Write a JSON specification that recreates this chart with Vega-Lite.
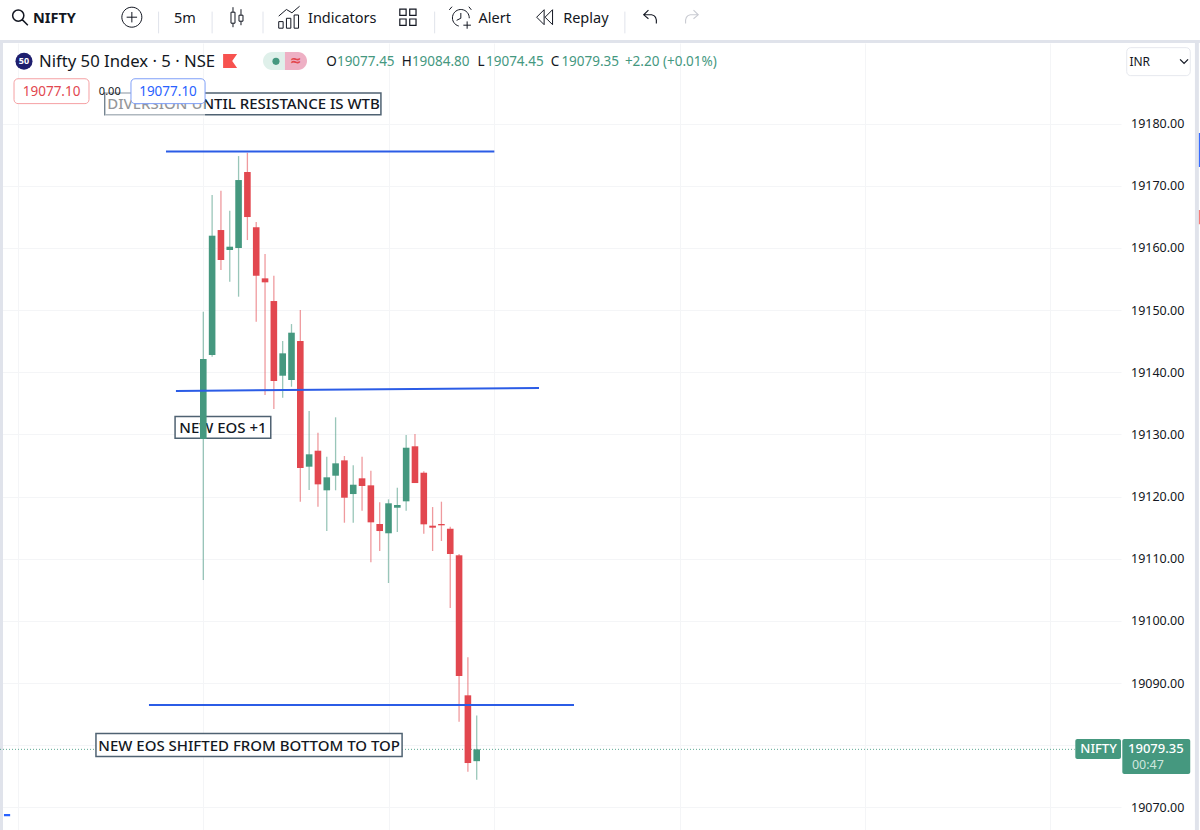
{
"$schema":"https://vega.github.io/schema/vega-lite/v6.json",
"width":1121,"height":787,
"padding":{"left":0,"top":43,"right":79,"bottom":0},
"autosize":{"type":"none"},
"background":"white",
"config":{"view":{"stroke":null},"text":{"font":"Noto Sans"}},
"datasets":{
"candles":[
{"t":0,"o":19129.26,"h":19149.73,"l":19106.58,"c":19142.13},
{"t":1,"o":19142.77,"h":19168.5,"l":19142.5,"c":19161.96},
{"t":2,"o":19162.87,"h":19169.19,"l":19156.44,"c":19158.05},
{"t":3,"o":19159.66,"h":19165.98,"l":19154.56,"c":19160.19},
{"t":4,"o":19159.98,"h":19174.77,"l":19152.15,"c":19170.91},
{"t":5,"o":19172.2,"h":19175.3,"l":19161.26,"c":19164.96},
{"t":6,"o":19163.31,"h":19164.16,"l":19148.13,"c":19155.52},
{"t":7,"o":19155.1,"h":19159.01,"l":19136.34,"c":19154.46},
{"t":8,"o":19151.45,"h":19155.52,"l":19134.09,"c":19138.59},
{"t":9,"o":19139.44,"h":19145.02,"l":19135.9,"c":19143.04},
{"t":10,"o":19138.75,"h":19147.75,"l":19137.67,"c":19146.36},
{"t":11,"o":19145.02,"h":19150.01,"l":19119.18,"c":19124.6},
{"t":12,"o":19124.81,"h":19133.76,"l":19121.06,"c":19126.8},
{"t":13,"o":19127.38,"h":19130.27,"l":19118.37,"c":19121.97},
{"t":14,"o":19121.01,"h":19126.41,"l":19114.46,"c":19123.1},
{"t":15,"o":19123.36,"h":19132.75,"l":19121.01,"c":19125.35},
{"t":16,"o":19125.83,"h":19126.53,"l":19115.8,"c":19119.82},
{"t":17,"o":19120.41,"h":19125.03,"l":19115.8,"c":19121.91},
{"t":18,"o":19122.94,"h":19126.41,"l":19117.73,"c":19121.7},
{"t":19,"o":19121.81,"h":19124.16,"l":19109.43,"c":19115.86},
{"t":20,"o":19115.59,"h":19119.08,"l":19111.25,"c":19114.46},
{"t":21,"o":19114.1,"h":19119.56,"l":19106.1,"c":19118.92},
{"t":22,"o":19118.21,"h":19121.43,"l":19114.3,"c":19118.65},
{"t":23,"o":19119.24,"h":19129.9,"l":19117.73,"c":19127.86},
{"t":24,"o":19128.09,"h":19130.06,"l":19122.18,"c":19122.18},
{"t":25,"o":19123.84,"h":19124.07,"l":19114.03,"c":19115.54},
{"t":26,"o":19115.32,"h":19118.32,"l":19111.25,"c":19115},
{"t":27,"o":19115.59,"h":19119.18,"l":19112.86,"c":19115.38},
{"t":28,"o":19114.83,"h":19115.16,"l":19102.08,"c":19110.77},
{"t":29,"o":19110.56,"h":19110.77,"l":19083.8,"c":19091.15},
{"t":30,"o":19088.04,"h":19094.15,"l":19075.75,"c":19077.15},
{"t":31,"o":19077.45,"h":19084.8,"l":19074.45,"c":19079.35}
],
"trend":[
{"t1":-4.23,"p1":19175.5,"t2":33,"p2":19175.5},
{"t1":-3.1,"p1":19136.98,"t2":38.06,"p2":19137.46},
{"t1":-6.16,"p1":19086.48,"t2":42.03,"p2":19086.48}
],
"notes":[
{"label":"DIVERSION UNTIL RESISTANCE IS WTB","t1":-11.15,"t2":20.14,"p1":19184.9,"p2":19181.4,"t":4.56,"p":19183.1},
{"label":"NEW EOS +1","t1":-3.2,"t2":7.65,"p1":19132.9,"p2":19129.4,"t":2.23,"p":19131.1},
{"label":"NEW EOS SHIFTED FROM BOTTOM TO TOP","t1":-12.17,"t2":22.54,"p1":19081.9,"p2":19078.2,"t":5.2,"p":19079.95}
],
"last":[{"p":19079.35,"t1":-23.05,"t2":98.8}],
"bands":[
{"part":"top","t1":-23.05,"t2":113,"p1":19193.43,"p2":19192.95},
{"part":"left","t1":-23.05,"t2":-22.71,"p1":19193,"p2":19066.4},
{"part":"right","t1":112.43,"t2":112.88,"p1":19193.4,"p2":19066.4}
],
"seps":[
{"t":-5.07,"p1":19198,"p2":19194.5},{"t":1.0,"p1":19198,"p2":19194.5},{"t":6.77,"p1":19198,"p2":19194.5},{"t":26.23,"p1":19198,"p2":19194.5},{"t":47.8,"p1":19198,"p2":19194.5}
],
"dark":[
{"label":"5m","t":-3.33,"p":19196.85},
{"label":"Indicators","t":11.87,"p":19196.85},
{"label":"Alert","t":31.2,"p":19196.85},
{"label":"Replay","t":40.8,"p":19196.85}
],
"veil":[{"t1":-11.15,"t2":0.2,"p1":19185.7,"p2":19180.8}],
"slips":[
{"part":"mark","t1":-22.6,"t2":-21.9,"p1":19068.95,"p2":19068.6},
{"part":"mark","t1":112.88,"t2":113,"p1":19178.47,"p2":19173},
{"part":"flagged","t1":112.88,"t2":113,"p1":19166.09,"p2":19163.8}
],
"pillL":[{"t1":6.77,"t2":9.26,"p1":19191.5,"p2":19188.6}],
"pillR":[{"t1":9.26,"t2":11.76,"p1":19191.5,"p2":19188.6}],
"tags":[
{"part":"red","t1":-21.46,"t2":-12.96,"p1":19187.2,"p2":19183.2,"t":-17.2,"p":19185.1,"label":"19077.10"},
{"part":"blue","t1":-8.2,"t2":0.2,"p1":19187.2,"p2":19183.2,"t":-4,"p":19185.1,"label":"19077.10"},
{"part":"inr","t1":104.7,"t2":111.9,"p1":19192.2,"p2":19187.7,"t":105,"p":19189.85,"label":"INR"}
],
"ohlcK":[
{"label":"O","t":13.94,"p":19189.85},{"label":"H","t":22.5,"p":19189.85},{"label":"L","t":31.1,"p":19189.85},{"label":"C","t":39.4,"p":19189.85}
],
"ohlcV":[
{"label":"19077.45","t":15.15,"p":19189.85},{"label":"19084.80","t":23.65,"p":19189.85},{"label":"19074.45","t":32.05,"p":19189.85},{"label":"19079.35","t":40.6,"p":19189.85},{"label":"+2.20 (+0.01%)","t":47.8,"p":19189.85}
],
"priceTags":[
{"t1":98.87,"t2":104.05,"p1":19081,"p2":19077.8,"t":101.5,"p":19079.4,"label":"NIFTY"},
{"t1":104.2,"t2":111.9,"p1":19081,"p2":19075.4,"t":108,"p":19079.4,"label":"19079.35"}
],
"icons":[
{"name":"search","t":-20.8,"p":19197.1},
{"name":"plus","t":-8.1,"p":19197.1},
{"name":"candle","t":3.82,"p":19197.1},
{"name":"bars","t":9.8,"p":19197.1},
{"name":"grid","t":23.2,"p":19197.1},
{"name":"alarm","t":29.2,"p":19197.1},
{"name":"rewind","t":38.75,"p":19197.1},
{"name":"undo","t":50.65,"p":19197.1}
]
},
"data":{"name":"candles"},
"encoding":{},
"layer":[
{"data":{"name":"bands"},"mark":{"type":"rect","color":"#e0e3eb"},
 "encoding":{"x":{"field":"t1","type":"quantitative","scale":{"domain":[-23.05,104.05],"nice":false,"zero":false,"padding":0},
   "axis":{"values":[-21,0,21,33,54,75,96],"grid":true,"gridColor":"#f4f5f7","domain":false,"ticks":false,"labels":false,"title":null,"orient":"bottom"}},
  "x2":{"field":"t2"},
  "y":{"field":"p1","type":"quantitative","scale":{"domain":[19066.38,19192.95],"nice":false,"zero":false,"padding":0},
   "axis":{"orient":"right","values":[19070,19080,19090,19100,19110,19120,19130,19140,19150,19160,19170,19180],"labelExpr":"datum.value==19080?'':format(datum.value,'.2f')","grid":true,"gridColor":"#f4f5f7","domain":false,"ticks":false,"labelPadding":9.5,"labelFont":"Noto Sans","labelFontSize":12.5,"labelColor":"#131722","title":null}},
  "y2":{"field":"p2"}}},
{"data":{"name":"slips"},"mark":{"type":"rect"},
 "encoding":{"x":{"field":"t1","type":"quantitative"},"x2":{"field":"t2"},"y":{"field":"p1","type":"quantitative"},"y2":{"field":"p2"},
  "fill":{"field":"part","type":"nominal","legend":null,"scale":{"domain":["mark","flagged"],"range":["#2962ff","#f7726f"]}}}},
{"data":{"name":"last"},"mark":{"type":"rule","color":"#4a9d86","strokeDash":[1,2],"strokeWidth":1,"opacity":0.9},
 "encoding":{"x":{"field":"t1","type":"quantitative"},"x2":{"field":"t2"},"y":{"field":"p","type":"quantitative"}}},
{"data":{"name":"notes"},"mark":{"type":"rect","fill":"white","stroke":"#4f6272","strokeWidth":1.5},
 "encoding":{"x":{"field":"t1","type":"quantitative"},"x2":{"field":"t2"},"y":{"field":"p1","type":"quantitative"},"y2":{"field":"p2"}}},
{"data":{"name":"notes"},"mark":{"type":"text","fontSize":15,"font":"Noto Sans","fontWeight":500,"color":"#131722"},
 "encoding":{"x":{"field":"t","type":"quantitative"},"y":{"field":"p","type":"quantitative"},"text":{"field":"label"}}},
{"mark":{"type":"rule","strokeWidth":1.3,"opacity":0.55},
 "encoding":{"x":{"field":"t","type":"quantitative"},"y":{"field":"l","type":"quantitative"},"y2":{"field":"h"},
  "color":{"condition":{"test":"datum.c>=datum.o","value":"#45987f"},"value":"#e2474f"}}},
{"mark":{"type":"bar","size":6.6},
 "encoding":{"x":{"field":"t","type":"quantitative"},"y":{"field":"o","type":"quantitative"},"y2":{"field":"c"},
  "color":{"condition":{"test":"datum.c>=datum.o","value":"#45987f"},"value":"#e2474f"}}},
{"data":{"name":"trend"},"mark":{"type":"rule","color":"#2b5ce6","strokeWidth":2},
 "encoding":{"x":{"field":"t1","type":"quantitative"},"x2":{"field":"t2"},"y":{"field":"p1","type":"quantitative"},"y2":{"field":"p2"}}},
{"data":{"name":"veil"},"mark":{"type":"rect","fill":"white","opacity":0.55},
 "encoding":{"x":{"field":"t1","type":"quantitative"},"x2":{"field":"t2"},"y":{"field":"p1","type":"quantitative"},"y2":{"field":"p2"}}},
{"data":{"name":"pillL"},"mark":{"type":"rect","fill":"#dff0ea","cornerRadiusTopLeft":9,"cornerRadiusBottomLeft":9},
 "encoding":{"x":{"field":"t1","type":"quantitative"},"x2":{"field":"t2"},"y":{"field":"p1","type":"quantitative"},"y2":{"field":"p2"}}},
{"data":{"name":"pillR"},"mark":{"type":"rect","fill":"#eeb0c4","cornerRadiusTopRight":9,"cornerRadiusBottomRight":9},
 "encoding":{"x":{"field":"t1","type":"quantitative"},"x2":{"field":"t2"},"y":{"field":"p1","type":"quantitative"},"y2":{"field":"p2"}}},
{"data":{"values":[{"t":3.04,"p":19190.05}]},"mark":{"type":"point","shape":"M-0.5,-0.5L0.5,-0.5L0.15,0L0.5,0.5L-0.5,0.5Z","size":784,"filled":true,"color":"#f7524f","opacity":1},
 "encoding":{"x":{"field":"t","type":"quantitative"},"y":{"field":"p","type":"quantitative"}}},
{"data":{"name":"tags"},"mark":{"type":"rect","fill":"white","cornerRadius":4,"strokeWidth":1},
 "encoding":{"x":{"field":"t1","type":"quantitative"},"x2":{"field":"t2"},"y":{"field":"p1","type":"quantitative"},"y2":{"field":"p2"},
  "stroke":{"field":"part","type":"nominal","legend":null,"scale":{"domain":["red","blue","inr"],"range":["#f5a0a3","#7f9ff8","#e6e8ee"]}}}},
{"data":{"name":"tags"},"transform":[{"filter":"datum.part!='inr'"}],"mark":{"type":"text","fontSize":13.5,"font":"Noto Sans"},
 "encoding":{"x":{"field":"t","type":"quantitative"},"y":{"field":"p","type":"quantitative"},"text":{"field":"label"},
  "color":{"field":"part","type":"nominal","legend":null,"scale":{"domain":["red","blue"],"range":["#e2474f","#2962ff"]}}}},
{"data":{"name":"tags"},"transform":[{"filter":"datum.part=='inr'"}],"mark":{"type":"text","fontSize":12,"font":"Noto Sans","align":"left","color":"#131722"},
 "encoding":{"x":{"field":"t","type":"quantitative"},"y":{"field":"p","type":"quantitative"},"text":{"field":"label"}}},
{"data":{"values":[{"t":-11.84,"p":19185.1,"label":"0.00"}]},"mark":{"type":"text","fontSize":11,"font":"Noto Sans","color":"#131722","align":"left"},
 "encoding":{"x":{"field":"t","type":"quantitative"},"y":{"field":"p","type":"quantitative"},"text":{"field":"label"}}},
{"data":{"values":[{"t":-18.63,"p":19189.85,"label":"Nifty 50 Index · 5 · NSE"}]},"mark":{"type":"text","fontSize":16.7,"font":"Noto Sans","color":"#131722","align":"left"},
 "encoding":{"x":{"field":"t","type":"quantitative"},"y":{"field":"p","type":"quantitative"},"text":{"field":"label"}}},
{"data":{"values":[{"t":-20.33,"p":19190}]},"mark":{"type":"point","shape":"circle","filled":true,"size":290,"color":"#1e1e6e","opacity":1},
 "encoding":{"x":{"field":"t","type":"quantitative"},"y":{"field":"p","type":"quantitative"}}},
{"data":{"values":[{"t":-20.33,"p":19190,"label":"50"}]},"mark":{"type":"text","fontSize":9,"fontWeight":"bold","font":"Noto Sans","color":"white"},
 "encoding":{"x":{"field":"t","type":"quantitative"},"y":{"field":"p","type":"quantitative"},"text":{"field":"label"}}},
{"data":{"values":[{"t":8.24,"p":19190}]},"mark":{"type":"point","shape":"circle","filled":true,"size":50,"color":"#45987f","opacity":1},
 "encoding":{"x":{"field":"t","type":"quantitative"},"y":{"field":"p","type":"quantitative"}}},
{"data":{"values":[{"t":10.5,"p":19190,"label":"≈"}]},"mark":{"type":"text","fontSize":14,"font":"DejaVu Sans","fontWeight":"bold","color":"#e2474f"},
 "encoding":{"x":{"field":"t","type":"quantitative"},"y":{"field":"p","type":"quantitative"},"text":{"field":"label"}}},
{"data":{"name":"ohlcK"},"mark":{"type":"text","fontSize":13.5,"font":"Noto Sans","color":"#131722","align":"left"},
 "encoding":{"x":{"field":"t","type":"quantitative"},"y":{"field":"p","type":"quantitative"},"text":{"field":"label"}}},
{"data":{"name":"ohlcV"},"mark":{"type":"text","fontSize":13.5,"font":"Noto Sans","color":"#45987f","align":"left"},
 "encoding":{"x":{"field":"t","type":"quantitative"},"y":{"field":"p","type":"quantitative"},"text":{"field":"label"}}},
{"data":{"name":"priceTags"},"mark":{"type":"rect","fill":"#45987f","cornerRadius":2},
 "encoding":{"x":{"field":"t1","type":"quantitative"},"x2":{"field":"t2"},"y":{"field":"p1","type":"quantitative"},"y2":{"field":"p2"}}},
{"data":{"name":"priceTags"},"mark":{"type":"text","fontSize":13,"font":"Noto Sans","fontWeight":500,"color":"white"},
 "encoding":{"x":{"field":"t","type":"quantitative"},"y":{"field":"p","type":"quantitative"},"text":{"field":"label"}}},
{"data":{"values":[{"t":107.1,"p":19076.8,"label":"00:47"}]},"mark":{"type":"text","fontSize":12.5,"font":"Noto Sans","color":"#cfe6de"},
 "encoding":{"x":{"field":"t","type":"quantitative"},"y":{"field":"p","type":"quantitative"},"text":{"field":"label"}}},
{"data":{"name":"seps"},"mark":{"type":"rule","color":"#e0e3eb","strokeWidth":1},
 "encoding":{"x":{"field":"t","type":"quantitative"},"y":{"field":"p1","type":"quantitative"},"y2":{"field":"p2"}}},
{"data":{"name":"dark"},"mark":{"type":"text","fontSize":14.5,"font":"Noto Sans","color":"#131722","align":"left"},
 "encoding":{"x":{"field":"t","type":"quantitative"},"y":{"field":"p","type":"quantitative"},"text":{"field":"label"}}},
{"data":{"values":[{"t":-19.3,"p":19196.85,"label":"NIFTY"}]},"mark":{"type":"text","fontSize":14.5,"font":"Noto Sans","fontWeight":"bold","color":"#131722","align":"left"},
 "encoding":{"x":{"field":"t","type":"quantitative"},"y":{"field":"p","type":"quantitative"},"text":{"field":"label"}}},
{"data":{"name":"icons"},"transform":[{"filter":"datum.name=='plus'"}],"mark":{"type":"point","shape":"M-0.48,0a0.48,0.48 0 1,0 0.96,0a0.48,0.48 0 1,0 -0.96,0M-0.25,0L0.25,0M0,-0.25L0,0.25","size":1736,"filled":false,"stroke":"#131722","strokeWidth":1,"opacity":1},
 "encoding":{"x":{"field":"t","type":"quantitative"},"y":{"field":"p","type":"quantitative"}}},
{"data":{"name":"icons"},"transform":[{"filter":"datum.name=='search'"}],"mark":{"type":"point","shape":"M-0.45,-0.1a0.35,0.35 0 1,0 0.7,0a0.35,0.35 0 1,0 -0.7,0M0.15,0.15L0.5,0.5","size":1024,"filled":false,"stroke":"#131722","strokeWidth":1.5,"opacity":1},
 "encoding":{"x":{"field":"t","type":"quantitative"},"y":{"field":"p","type":"quantitative"}}},
{"data":{"name":"icons"},"transform":[{"filter":"datum.name=='candle'"}],"mark":{"type":"point","shape":"M-0.3,-0.25L-0.1,-0.25L-0.1,0.3L-0.3,0.3ZM-0.2,-0.5L-0.2,-0.25M-0.2,0.3L-0.2,0.5M0.1,-0.1L0.3,-0.1L0.3,0.2L0.1,0.2ZM0.2,-0.4L0.2,-0.1M0.2,0.2L0.2,0.4","size":1600,"filled":false,"stroke":"#131722","strokeWidth":1,"opacity":1},
 "encoding":{"x":{"field":"t","type":"quantitative"},"y":{"field":"p","type":"quantitative"}}},
{"data":{"name":"icons"},"transform":[{"filter":"datum.name=='bars'"}],"mark":{"type":"point","shape":"M-0.5,0.5L-0.5,0.2L-0.3,0.2L-0.3,0.5ZM-0.15,0.5L-0.15,0.05L0.05,0.05L0.05,0.5ZM0.2,0.5L0.2,-0.1L0.4,-0.1L0.4,0.5ZM-0.5,-0.05L-0.15,-0.35L0.1,-0.2L0.45,-0.5","size":1936,"filled":false,"stroke":"#131722","strokeWidth":1,"opacity":1},
 "encoding":{"x":{"field":"t","type":"quantitative"},"y":{"field":"p","type":"quantitative"}}},
{"data":{"name":"icons"},"transform":[{"filter":"datum.name=='grid'"}],"mark":{"type":"point","shape":"M-0.45,-0.45h0.35v0.35h-0.35ZM0.1,-0.45h0.35v0.35h-0.35ZM-0.45,0.1h0.35v0.35h-0.35ZM0.1,0.1h0.35v0.35h-0.35Z","size":1300,"filled":false,"stroke":"#131722","strokeWidth":1.2,"opacity":1},
 "encoding":{"x":{"field":"t","type":"quantitative"},"y":{"field":"p","type":"quantitative"}}},
{"data":{"name":"icons"},"transform":[{"filter":"datum.name=='alarm'"}],"mark":{"type":"point","shape":"M-0.1,0.42A0.4,0.4 0 1,1 0.4,0.05M0,-0.2L0,0.05L-0.2,0.15M-0.42,-0.5L-0.55,-0.35M0.38,-0.5L0.5,-0.35M0.3,0.2L0.3,0.55M0.12,0.38L0.48,0.38","size":1764,"filled":false,"stroke":"#131722","strokeWidth":1,"opacity":1},
 "encoding":{"x":{"field":"t","type":"quantitative"},"y":{"field":"p","type":"quantitative"}}},
{"data":{"name":"icons"},"transform":[{"filter":"datum.name=='rewind'"}],"mark":{"type":"point","shape":"M-0.05,-0.4L-0.45,0L-0.05,0.4ZM0.4,-0.4L0,0L0.4,0.4Z","size":1400,"filled":false,"stroke":"#131722","strokeWidth":1,"opacity":1},
 "encoding":{"x":{"field":"t","type":"quantitative"},"y":{"field":"p","type":"quantitative"}}},
{"data":{"name":"icons"},"transform":[{"filter":"datum.name=='undo'"}],"mark":{"type":"point","shape":"M-0.1,-0.45L-0.4,-0.15L-0.1,0.1M-0.4,-0.15L0.1,-0.15Q0.45,-0.1 0.4,0.4","size":1000,"filled":false,"stroke":"#131722","strokeWidth":1.1,"opacity":1},
 "encoding":{"x":{"field":"t","type":"quantitative"},"y":{"field":"p","type":"quantitative"}}},
{"data":{"values":[{"t":55.4,"p":19197.1}]},"mark":{"type":"point","shape":"M0.1,-0.45L0.4,-0.15L0.1,0.1M0.4,-0.15L-0.1,-0.15Q-0.45,-0.1 -0.4,0.4","size":1000,"filled":false,"stroke":"#c9cbd2","strokeWidth":1.1,"opacity":1},
 "encoding":{"x":{"field":"t","type":"quantitative"},"y":{"field":"p","type":"quantitative"}}},
{"data":{"values":[{"t":111.2,"p":19190}]},"mark":{"type":"point","shape":"M-0.4,-0.2L0,0.2L0.4,-0.2","size":400,"filled":false,"stroke":"#131722","strokeWidth":1.3,"opacity":1},
 "encoding":{"x":{"field":"t","type":"quantitative"},"y":{"field":"p","type":"quantitative"}}}
]
}
